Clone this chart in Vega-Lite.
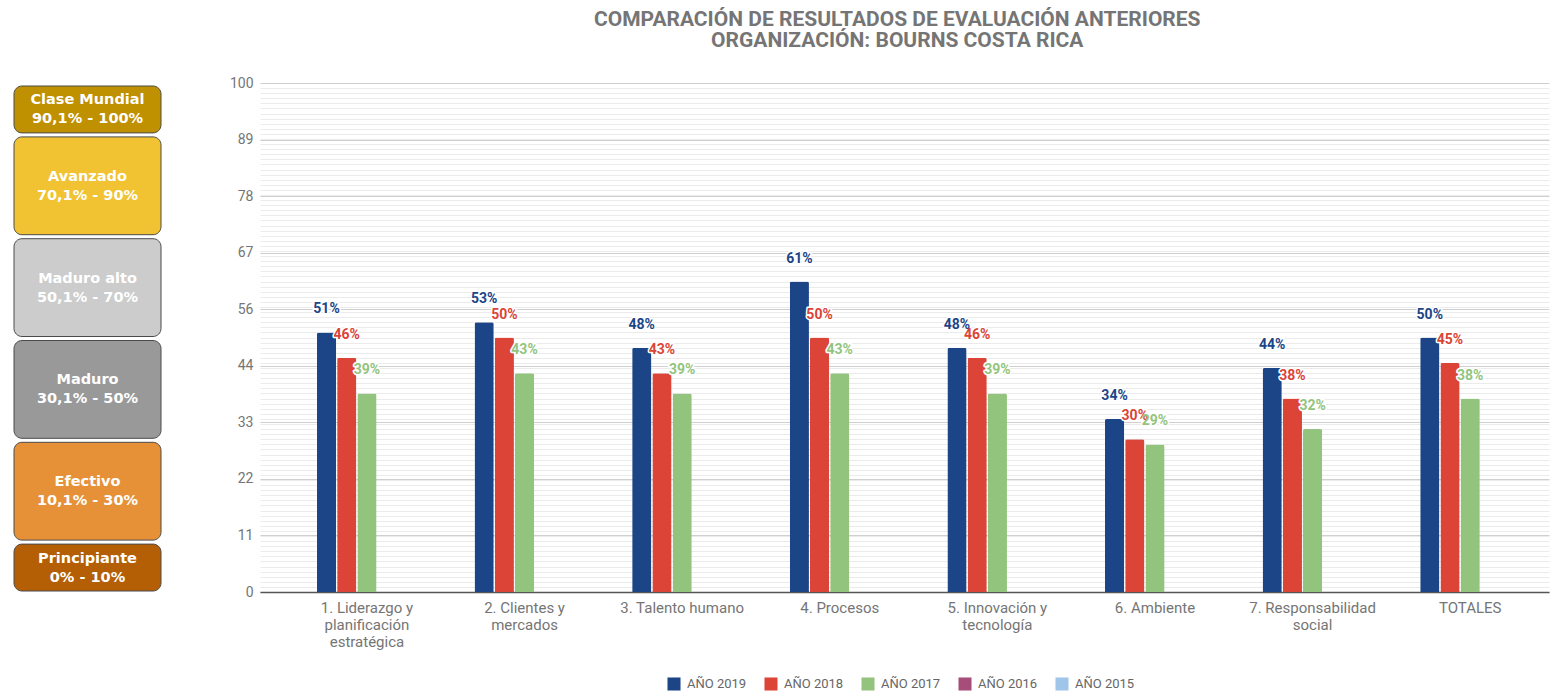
{
  "$schema": "https://vega.github.io/schema/vega-lite/v6.json",
  "background": "white",
  "padding": {"left": 13, "top": 8, "right": 8, "bottom": 0},
  "title": {
    "text": ["COMPARACIÓN DE RESULTADOS DE EVALUACIÓN ANTERIORES", "ORGANIZACIÓN: BOURNS COSTA RICA"],
    "font": "Roboto",
    "fontSize": 21,
    "fontWeight": "bold",
    "color": "#757575",
    "lineHeight": 21.5,
    "anchor": "middle",
    "dx": 116,
    "offset": 25
  },
  "config": {"view": {"stroke": null}, "font": "Roboto"},
  "resolve": {"scale": {"color": "independent", "y": "independent"}, "legend": {"color": "independent"}},
  "spacing": 67,
  "hconcat": [
    {
      "width": 147,
      "height": 509,
      "data": {"values": [
        {"nivel": "Clase Mundial", "rango": "90,1% - 100%", "desde": 90, "hasta": 100},
        {"nivel": "Avanzado", "rango": "70,1% - 90%", "desde": 70, "hasta": 90},
        {"nivel": "Maduro alto", "rango": "50,1% - 70%", "desde": 50, "hasta": 70},
        {"nivel": "Maduro", "rango": "30,1% - 50%", "desde": 30, "hasta": 50},
        {"nivel": "Efectivo", "rango": "10,1% - 30%", "desde": 10, "hasta": 30},
        {"nivel": "Principiante", "rango": "0% - 10%", "desde": 0, "hasta": 10}
      ]},
      "transform": [
        {"calculate": "[datum.nivel, datum.rango]", "as": "etiqueta"},
        {"calculate": "(datum.desde + datum.hasta) / 2", "as": "medio"}
      ],
      "layer": [
        {
          "mark": {"type": "rect", "cornerRadius": 8, "stroke": "#4a4a4a", "strokeWidth": 1, "yOffset": -1, "y2Offset": 3},
          "encoding": {
            "y": {"field": "desde", "type": "quantitative", "scale": {"domain": [0, 100]}, "axis": null},
            "y2": {"field": "hasta"},
            "color": {
              "field": "nivel",
              "type": "nominal",
              "scale": {
                "domain": ["Clase Mundial", "Avanzado", "Maduro alto", "Maduro", "Efectivo", "Principiante"],
                "range": ["#bf9000", "#f1c232", "#cccccc", "#999999", "#e69138", "#b45f06"]
              },
              "legend": null
            }
          }
        },
        {
          "mark": {"type": "text", "color": "white", "fontWeight": "bold", "fontSize": 14.5, "font": "DejaVu Sans", "lineHeight": 19, "dy": -8, "baseline": "middle"},
          "encoding": {
            "y": {"field": "medio", "type": "quantitative", "scale": {"domain": [0, 100]}, "axis": null},
            "text": {"field": "etiqueta"}
          }
        }
      ]
    },
    {
      "width": 1289,
      "height": 509,
      "data": {"values": [
        {"categoria": "1. Liderazgo y planificación estratégica", "anio": "AÑO 2019", "valor": 51},
        {"categoria": "1. Liderazgo y planificación estratégica", "anio": "AÑO 2018", "valor": 46},
        {"categoria": "1. Liderazgo y planificación estratégica", "anio": "AÑO 2017", "valor": 39},
        {"categoria": "2. Clientes y mercados", "anio": "AÑO 2019", "valor": 53},
        {"categoria": "2. Clientes y mercados", "anio": "AÑO 2018", "valor": 50},
        {"categoria": "2. Clientes y mercados", "anio": "AÑO 2017", "valor": 43},
        {"categoria": "3. Talento humano", "anio": "AÑO 2019", "valor": 48},
        {"categoria": "3. Talento humano", "anio": "AÑO 2018", "valor": 43},
        {"categoria": "3. Talento humano", "anio": "AÑO 2017", "valor": 39},
        {"categoria": "4. Procesos", "anio": "AÑO 2019", "valor": 61},
        {"categoria": "4. Procesos", "anio": "AÑO 2018", "valor": 50},
        {"categoria": "4. Procesos", "anio": "AÑO 2017", "valor": 43},
        {"categoria": "5. Innovación y tecnología", "anio": "AÑO 2019", "valor": 48},
        {"categoria": "5. Innovación y tecnología", "anio": "AÑO 2018", "valor": 46},
        {"categoria": "5. Innovación y tecnología", "anio": "AÑO 2017", "valor": 39},
        {"categoria": "6. Ambiente", "anio": "AÑO 2019", "valor": 34},
        {"categoria": "6. Ambiente", "anio": "AÑO 2018", "valor": 30},
        {"categoria": "6. Ambiente", "anio": "AÑO 2017", "valor": 29},
        {"categoria": "7. Responsabilidad social", "anio": "AÑO 2019", "valor": 44},
        {"categoria": "7. Responsabilidad social", "anio": "AÑO 2018", "valor": 38},
        {"categoria": "7. Responsabilidad social", "anio": "AÑO 2017", "valor": 32},
        {"categoria": "TOTALES", "anio": "AÑO 2019", "valor": 50},
        {"categoria": "TOTALES", "anio": "AÑO 2018", "valor": 45},
        {"categoria": "TOTALES", "anio": "AÑO 2017", "valor": 38}
      ]},
      "transform": [{"calculate": "format(datum.valor, '.0f') + '%'", "as": "etiqueta"}],
      "encoding": {
        "x": {
          "field": "categoria",
          "type": "nominal",
          "sort": null,
          "scale": {"paddingInner": 0.3655, "paddingOuter": 0.272, "align": 0.664},
          "axis": {
            "title": null,
            "labelAngle": 0,
            "labelFontSize": 15,
            "labelColor": "#757575",
            "labelPadding": 8,
            "labelLineHeight": 17,
            "ticks": false,
            "domain": true,
            "domainColor": "#555555",
            "domainWidth": 1.5,
            "labelExpr": "datum.value == '1. Liderazgo y planificación estratégica' ? ['1. Liderazgo y', 'planificación', 'estratégica'] : datum.value == '2. Clientes y mercados' ? ['2. Clientes y', 'mercados'] : datum.value == '5. Innovación y tecnología' ? ['5. Innovación y', 'tecnología'] : datum.value == '7. Responsabilidad social' ? ['7. Responsabilidad', 'social'] : datum.value"
          }
        },
        "xOffset": {
          "field": "anio",
          "type": "nominal",
          "scale": {"domain": ["AÑO 2019", "AÑO 2018", "AÑO 2017", "AÑO 2016", "AÑO 2015"], "paddingInner": 0.05}
        }
      },
      "resolve": {"axis": {"y": "independent"}},
      "layer": [
        {
          "mark": {"type": "bar", "cornerRadiusTopLeft": 2, "cornerRadiusTopRight": 2},
          "encoding": {
            "y": {
              "field": "valor",
              "type": "quantitative",
              "scale": {"domain": [0, 100], "nice": false},
              "axis": {
                "title": null,
                "values": [0, 11.111, 22.222, 33.333, 44.444, 55.556, 66.667, 77.778, 88.889, 100],
                "format": ".0f",
                "labelFontSize": 14,
                "labelColor": "#757575",
                "labelPadding": 7,
                "ticks": false,
                "domain": false,
                "grid": true,
                "gridColor": "#cfcfcf",
                "gridWidth": 1
              }
            },
            "color": {
              "field": "anio",
              "type": "nominal",
              "scale": {
                "domain": ["AÑO 2019", "AÑO 2018", "AÑO 2017", "AÑO 2016", "AÑO 2015"],
                "range": ["#1c4587", "#db4437", "#93c47d", "#a64d79", "#9fc5e8"]
              },
              "legend": {
                "orient": "none",
                "legendX": 407,
                "legendY": 594,
                "direction": "horizontal",
                "title": null,
                "symbolType": "square",
                "symbolSize": 170,
                "symbolStrokeWidth": 0,
                "labelFontSize": 13,
                "labelColor": "#666666",
                "columnPadding": 17,
                "labelOffset": 6
              }
            }
          }
        },
        {
          "mark": {"type": "text", "dy": -23, "fontWeight": "bold", "fontSize": 14, "stroke": "white", "strokeWidth": 3, "strokeJoin": "round"},
          "encoding": {
            "y": {
              "field": "valor",
              "type": "quantitative",
              "axis": {
                "orient": "right",
                "title": null,
                "values": [1,2,3,4,5,6,7,8,9,10,11,12,13,14,15,16,17,18,19,20,21,22,23,24,25,26,27,28,29,30,31,32,33,34,35,36,37,38,39,40,41,42,43,44,45,46,47,48,49,50,51,52,53,54,55,56,57,58,59,60,61,62,63,64,65,66,67,68,69,70,71,72,73,74,75,76,77,78,79,80,81,82,83,84,85,86,87,88,89,90,91,92,93,94,95,96,97,98,99],
                "labels": false,
                "ticks": false,
                "domain": false,
                "grid": true,
                "gridColor": "#ebebeb",
                "gridWidth": 1
              }
            },
            "text": {"field": "etiqueta"},
            "color": {"field": "anio", "type": "nominal", "legend": null}
          }
        },
        {
          "mark": {"type": "text", "dy": -23, "fontWeight": "bold", "fontSize": 14},
          "encoding": {
            "y": {"field": "valor", "type": "quantitative", "axis": null},
            "text": {"field": "etiqueta"},
            "color": {"field": "anio", "type": "nominal", "legend": null}
          }
        }
      ]
    }
  ]
}
